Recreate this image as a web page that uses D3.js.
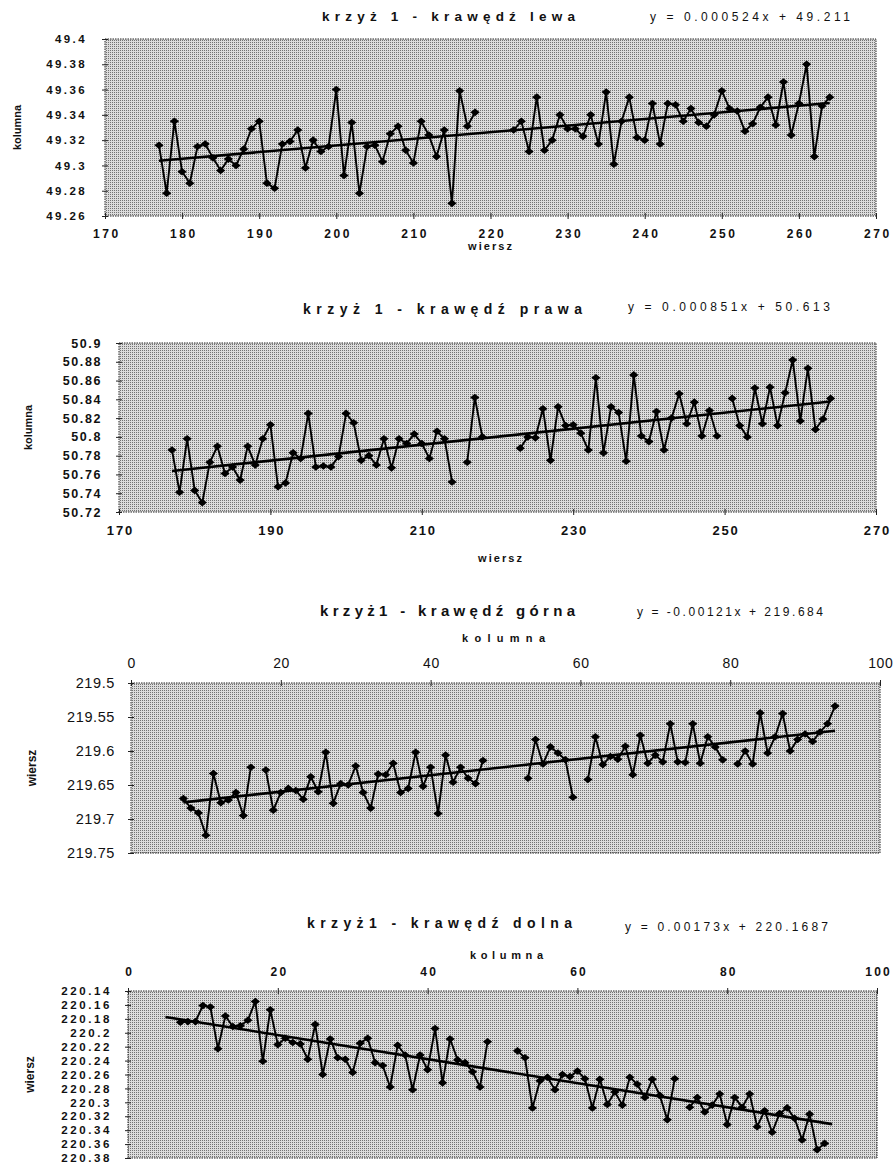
<!DOCTYPE html>
<meta charset="utf-8">
<script src="https://cdn.jsdelivr.net/npm/d3@7"></script>
<style>
  body { margin: 0; background: #fff; }
  text { font-family: "Liberation Sans", Arial, sans-serif; fill: #111; }
</style>
<div id="chart"></div>
<script>
// null = empty cell in the sheet (the line breaks there)

// ---- krzyż 1 - krawędź lewa ----
const lewaX = [177,178,179,180,181,182,183,184,185,186,187,188,189,190,191,192,193,194,195,196,197,198,199,200,201,202,203,204,205,206,207,208,209,210,211,212,213,214,215,216,217,218,
  219,220,221,222,
  223,224,225,226,227,228,229,230,231,232,233,234,235,236,237,238,239,240,241,242,243,244,245,246,247,248,249,250,251,252,253,254,255,256,257,258,259,260,261,262,263,264];
const lewaY = [49.316,49.278,49.335,49.295,49.286,49.315,49.317,49.306,49.296,49.305,49.300,49.313,49.329,49.335,49.286,49.282,49.317,49.319,49.328,49.298,49.320,49.311,49.315,49.360,49.292,49.334,49.278,49.315,49.316,49.303,49.325,49.331,49.312,49.302,49.335,49.324,49.307,49.328,49.270,49.359,49.331,49.342,
  null,null,null,null,
  49.328,49.335,49.311,49.354,49.312,49.320,49.340,49.329,49.329,49.323,49.340,49.317,49.358,49.301,49.335,49.354,49.322,49.320,49.349,49.317,49.349,49.348,49.335,49.345,49.334,49.331,49.340,49.359,49.345,49.343,49.327,49.333,49.346,49.354,49.332,49.366,49.324,49.349,49.380,49.307,49.347,49.354];
const lewaTrend = { slope: 0.000524, intercept: 49.211, from: 177, to: 264 };
const lewaXTicks = [170,180,190,200,210,220,230,240,250,260,270];
const lewaYTicks = [49.26,49.28,49.3,49.32,49.34,49.36,49.38,49.4];

// ---- krzyż 1 - krawędź prawa ----
const prawaX = [177,178,179,180,181,182,183,184,185,186,187,188,189,190,191,192,193,194,195,196,197,198,199,200,201,202,203,204,205,206,207,208,209,210,211,212,213,214,
  215,216,217,218,
  219,220,221,222,
  223,224,225,226,227,228,229,230,231,232,233,234,235,236,237,238,239,240,241,242,243,244,245,246,247,248,249,
  250,251,252,253,254,255,256,257,258,259,260,261,262,263,264];
const prawaY = [50.786,50.741,50.798,50.743,50.730,50.773,50.790,50.761,50.768,50.754,50.790,50.770,50.798,50.813,50.747,50.751,50.783,50.777,50.825,50.768,50.769,50.768,50.779,50.825,50.815,50.775,50.780,50.770,50.798,50.767,50.798,50.793,50.803,50.793,50.777,50.806,50.798,50.752,
  null,50.773,50.842,50.800,
  null,null,null,null,
  50.788,50.800,50.799,50.830,50.775,50.832,50.812,50.813,50.804,50.786,50.863,50.783,50.832,50.826,50.774,50.866,50.801,50.795,50.827,50.786,50.820,50.846,50.814,50.837,50.801,50.828,50.801,
  null,50.841,50.812,50.800,50.852,50.814,50.853,50.812,50.847,50.882,50.817,50.873,50.808,50.819,50.841];
const prawaTrend = { slope: 0.000851, intercept: 50.613, from: 177, to: 264 };
const prawaXTicks = [170,190,210,230,250,270];
const prawaYTicks = [50.72,50.74,50.76,50.78,50.8,50.82,50.84,50.86,50.88,50.9];

// ---- krzyż1 - krawędź górna ----
const gornaX = [7,8,9,10,11,12,13,14,15,16,17,18,19,20,21,22,23,24,25,26,27,28,29,30,31,32,33,34,35,36,37,38,39,40,41,42,43,44,45,46,47,
  48,49,50,51,52,
  53,54,55,56,57,58,59,60,61,62,63,64,65,66,67,68,69,70,71,72,73,74,75,76,77,78,79,80,81,82,83,84,85,86,87,88,89,90,91,92,93,94];
const gornaY = [219.670,219.684,219.691,219.724,219.633,219.676,219.672,219.661,219.695,219.624,null,219.628,219.687,219.661,219.655,219.658,219.671,219.638,219.660,219.602,219.677,219.648,219.650,219.622,219.661,219.684,219.634,219.635,219.618,219.661,219.655,219.602,219.652,219.624,219.692,219.606,219.646,219.624,219.640,219.648,219.614,
  null,null,null,null,null,
  219.640,219.583,219.619,219.594,219.603,219.613,219.668,null,219.642,219.579,219.620,219.608,219.612,219.593,219.635,219.577,219.618,219.606,219.616,219.560,219.616,219.617,219.560,219.618,219.579,219.594,219.613,null,219.619,219.600,219.619,219.544,219.603,219.579,219.545,219.600,219.583,219.575,219.586,219.572,219.560,219.534];
const gornaTrend = { slope: -0.00121, intercept: 219.684, from: 7, to: 94 };
const gornaXTicks = [0,20,40,60,80,100];
const gornaYTicks = [219.5,219.55,219.6,219.65,219.7,219.75];

// ---- krzyż1 - krawędź dolna ----
const dolnaX = [7,8,9,10,11,12,13,14,15,16,17,18,19,20,21,22,23,24,25,26,27,28,29,30,31,32,33,34,35,36,37,38,39,40,41,42,43,44,45,46,47,48,
  49,50,51,
  52,53,54,55,56,57,58,59,60,61,62,63,64,65,66,67,68,69,70,71,72,73,74,75,76,77,78,79,80,81,82,83,84,85,86,87,88,89,90,91,92,93];
const dolnaY = [220.185,220.184,220.184,220.161,220.163,220.223,220.176,220.191,220.190,220.182,220.155,220.241,220.167,220.217,220.208,220.214,220.216,220.238,220.188,220.260,220.209,220.236,220.238,220.257,220.215,220.208,220.243,220.247,220.278,220.218,220.232,220.282,220.232,220.253,220.194,220.272,220.209,220.239,220.243,220.256,220.278,220.213,
  null,null,null,
  220.226,220.236,220.308,220.269,220.264,220.282,220.260,220.263,220.255,220.266,220.308,220.267,220.303,220.285,220.304,220.264,220.274,220.293,220.267,220.290,220.325,220.266,null,220.307,220.293,220.314,220.304,220.288,220.332,220.293,220.307,220.288,220.335,220.312,220.343,220.316,220.308,220.323,220.354,220.317,220.368,220.359];
const dolnaTrend = { slope: 0.00173, intercept: 220.1687, from: 5, to: 94 };
const dolnaXTicks = [0,20,40,60,80,100];
const dolnaYTicks = [220.14,220.16,220.18,220.2,220.22,220.24,220.26,220.28,220.3,220.32,220.34,220.36,220.38];

const W = 894, H = 1165;
const svg = d3.select("#chart").append("svg").attr("width", W).attr("height", H);

// stippled grey background like the printed chart
const defs = svg.append("defs");
const pat = defs.append("pattern").attr("id", "stipple")
  .attr("width", 2).attr("height", 2).attr("patternUnits", "userSpaceOnUse");
pat.append("rect").attr("width", 2).attr("height", 2).attr("fill", "#dcdcdc");
pat.append("rect").attr("width", 1).attr("height", 1).attr("fill", "#737373");

const fmt = v => String(+v.toFixed(3));
const diamond = "M0,-3.8L4.6,0L0,3.8L-4.6,0Z";

function drawChart(c) {
  const g = svg.append("g");
  const x = d3.scaleLinear().domain(c.xDomain).range([c.left, c.right]);
  const y = d3.scaleLinear().domain(c.yDomain).range([c.bottom, c.top]);

  g.append("rect")
    .attr("x", c.left).attr("y", c.top)
    .attr("width", c.right - c.left).attr("height", c.bottom - c.top)
    .attr("fill", "url(#stipple)")
    .attr("stroke", "#222").attr("stroke-width", 1).attr("stroke-dasharray", "1.5,1");

  // x axis (bottom or top)
  const xAx = (c.xTop ? d3.axisTop(x) : d3.axisBottom(x))
    .tickValues(c.xTicks).tickFormat(d3.format("d")).tickSize(3).tickPadding(c.xPad);
  const gx = g.append("g")
    .attr("transform", `translate(0,${c.xTop ? c.top : c.bottom})`)
    .call(xAx);
  gx.select(".domain").remove();
  gx.selectAll(".tick line").attr("y1", -3).attr("y2", 3).attr("stroke", "#222");
  gx.selectAll(".tick text")
    .style("font-size", c.xFont.size + "px").style("font-weight", c.xFont.weight)
    .style("letter-spacing", c.xFont.ls + "px").attr("fill", "#111")
    .attr("dx", c.xFont.ls / 2);

  const yAx = d3.axisLeft(y).tickValues(c.yTicks).tickFormat(fmt).tickSize(3).tickPadding(c.yPad);
  const gy = g.append("g").attr("transform", `translate(${c.left},0)`).call(yAx);
  gy.select(".domain").remove();
  gy.selectAll(".tick line").attr("x1", -3).attr("x2", 3).attr("stroke", "#222");
  gy.selectAll(".tick text")
    .style("font-size", c.yFont.size + "px").style("font-weight", c.yFont.weight)
    .style("letter-spacing", c.yFont.ls + "px").attr("fill", "#111");

  // trend line
  const t = c.trend;
  g.append("line")
    .attr("x1", x(t.from)).attr("y1", y(t.slope * t.from + t.intercept))
    .attr("x2", x(t.to)).attr("y2", y(t.slope * t.to + t.intercept))
    .attr("stroke", "#000").attr("stroke-width", 2.6);

  // data series
  const pts = c.xs.map((v, i) => [v, c.ys[i]]);
  g.append("path").datum(pts)
    .attr("fill", "none").attr("stroke", "#000").attr("stroke-width", 1.9)
    .attr("d", d3.line().defined(d => d[1] != null).x(d => x(d[0])).y(d => y(d[1])));
  g.selectAll(".pt").data(pts.filter(d => d[1] != null)).enter().append("path")
    .attr("class", "pt")
    .attr("transform", d => `translate(${x(d[0])},${y(d[1])})`)
    .attr("d", diamond).attr("fill", "#000");

  // titles
  g.append("text").attr("x", c.titlePos[0]).attr("y", c.titlePos[1])
    .attr("textLength", c.titlePos[2]).attr("lengthAdjust", "spacing")
    .style("font-size", c.titleSize + "px").style("font-weight", "bold").text(c.title);
  g.append("text").attr("x", c.eqPos[0]).attr("y", c.eqPos[1])
    .attr("textLength", c.eqPos[2]).attr("lengthAdjust", "spacing")
    .style("font-size", "12px").text(c.eq);
  g.append("text").attr("x", c.xTitlePos[0]).attr("y", c.xTitlePos[1])
    .attr("textLength", c.xTitlePos[2]).attr("lengthAdjust", "spacing")
    .style("font-size", "11px").style("font-weight", "bold").text(c.xTitle);
  g.append("text")
    .attr("transform", `translate(${c.yTitleX},${(c.top + c.bottom) / 2}) rotate(-90)`)
    .attr("text-anchor", "middle")
    .style("font-size", c.yTitleSize + "px").style("font-weight", "bold").text(c.yTitle);
}

drawChart({
  xs: lewaX, ys: lewaY, trend: lewaTrend,
  xDomain: [170, 270], yDomain: [49.26, 49.4], xTicks: lewaXTicks, yTicks: lewaYTicks,
  left: 105, right: 876, top: 39, bottom: 216,
  xPad: 10, yPad: 15,
  xFont: { size: 12, weight: "bold", ls: 2.6 }, yFont: { size: 11.5, weight: "bold", ls: 2.4 },
  title: "krzyż 1 - krawędź lewa", titleSize: 13.5, titlePos: [322, 21, 253],
  eq: "y = 0.000524x + 49.211", eqPos: [650, 21, 200],
  xTitle: "wiersz", xTitlePos: [468, 250, 44],
  yTitle: "kolumna", yTitleX: 21, yTitleSize: 11
});

drawChart({
  xs: prawaX, ys: prawaY, trend: prawaTrend,
  xDomain: [170, 270], yDomain: [50.72, 50.9], xTicks: prawaXTicks, yTicks: prawaYTicks,
  left: 119, right: 876, top: 343, bottom: 512,
  xPad: 11, yPad: 14,
  xFont: { size: 13, weight: "bold", ls: 1.8 }, yFont: { size: 12.5, weight: "bold", ls: 1.6 },
  title: "krzyż 1 - krawędź prawa", titleSize: 14, titlePos: [303, 314, 279],
  eq: "y = 0.000851x + 50.613", eqPos: [628, 311, 202],
  xTitle: "wiersz", xTitlePos: [478, 562, 44],
  yTitle: "kolumna", yTitleX: 32, yTitleSize: 11
});

drawChart({
  xs: gornaX, ys: gornaY, trend: gornaTrend, xTop: true,
  xDomain: [0, 100], yDomain: [219.75, 219.5], xTicks: gornaXTicks, yTicks: gornaYTicks,
  left: 131, right: 880, top: 683, bottom: 853,
  xPad: 12, yPad: 13,
  xFont: { size: 14, weight: "normal", ls: 0.6 }, yFont: { size: 14.5, weight: "normal", ls: 0.6 },
  title: "krzyż1 - krawędź górna", titleSize: 15, titlePos: [320, 616, 255],
  eq: "y = -0.00121x + 219.684", eqPos: [637, 616, 186],
  xTitle: "kolumna", xTitlePos: [462, 642, 83],
  yTitle: "wiersz", yTitleX: 36, yTitleSize: 12
});

drawChart({
  xs: dolnaX, ys: dolnaY, trend: dolnaTrend, xTop: true,
  xDomain: [0, 100], yDomain: [220.38, 220.14], xTicks: dolnaXTicks, yTicks: dolnaYTicks,
  left: 128, right: 877, top: 991, bottom: 1158,
  xPad: 12, yPad: 13,
  xFont: { size: 12, weight: "bold", ls: 2.2 }, yFont: { size: 11.5, weight: "bold", ls: 2.6 },
  title: "krzyż1 - krawędź dolna", titleSize: 14, titlePos: [307, 928, 265],
  eq: "y = 0.00173x + 220.1687", eqPos: [625, 931, 203],
  xTitle: "kolumna", xTitlePos: [470, 959, 73],
  yTitle: "wiersz", yTitleX: 34, yTitleSize: 12
});
</script>
